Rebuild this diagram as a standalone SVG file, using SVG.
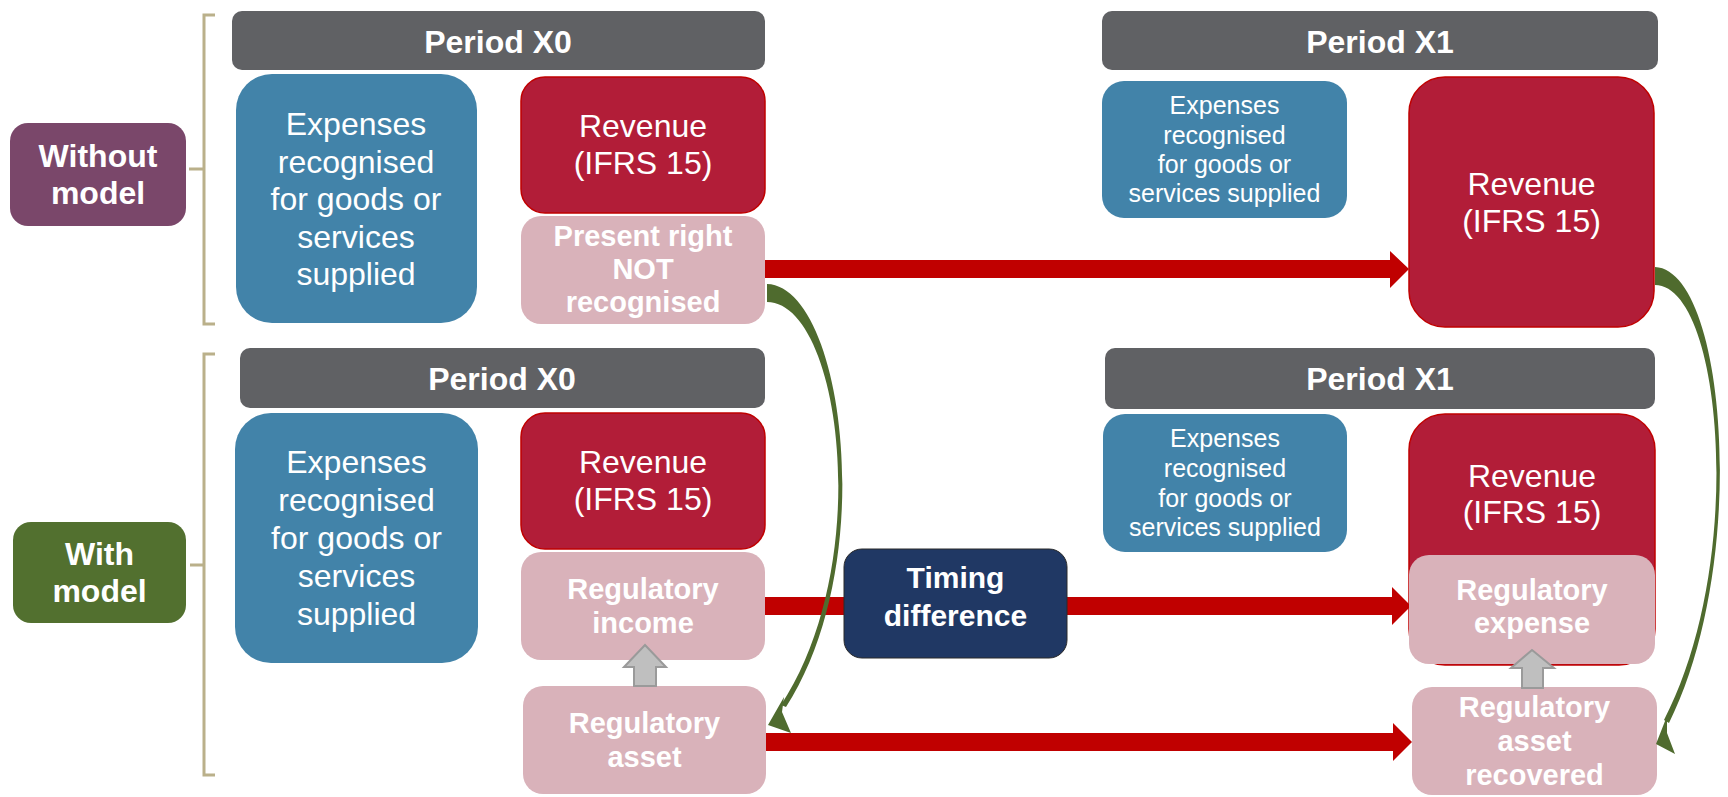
<svg xmlns="http://www.w3.org/2000/svg" width="1728" height="797" viewBox="0 0 1728 797">
<defs>
<style>
text{font-family:"Liberation Sans",Arial,sans-serif;fill:#fff;text-anchor:middle}
.b{font-weight:bold}
.hd{fill:#606164}
.blue{fill:#4283A9}
.rev{fill:#B21D38;stroke:#C00000;stroke-width:1.5}
.pink{fill:#D9B2BA}
.t32{font-size:32px}
.t29{font-size:29px;font-weight:bold}
.t25{font-size:25px}
.hdt{font-size:32px;font-weight:bold}
.redar{fill:#C00000}
.grn{fill:#4F6B2E}
.gray{fill:#BFBFBF;stroke:#9A9A9A;stroke-width:2}
.brk{fill:none;stroke:#BAB08A;stroke-width:3}
</style>
</defs>
<rect width="1728" height="797" fill="#fff"/>

<!-- connectors (red arrows, under boxes) -->
<g id="connectors">
<polygon class="redar" points="764,260 1390,260 1390,251 1409,269 1390,288 1390,278 764,278"/>
<polygon class="redar" points="764,597 1392,597 1392,587 1411,606 1392,625 1392,615 764,615"/>
<polygon class="redar" points="764,733 1393,733 1393,723 1412,742 1393,761 1393,751 764,751"/>
</g>

<!-- brackets -->
<g id="bracket-top">
<path class="brk" d="M215,15 H204 V324 H215 M204,169 H189"/>
</g>
<g id="bracket-bottom">
<path class="brk" d="M215,354 H204 V775 H215 M204,565 H190"/>
</g>

<g id="without-model">
<rect x="10" y="123" width="176" height="103" rx="18" fill="#7A476A"/>
<text class="hdt" x="98" y="167">Without</text>
<text class="hdt" x="98" y="204">model</text>
</g>
<g id="with-model">
<rect x="13" y="522" width="173" height="101" rx="18" fill="#52702F"/>
<text class="hdt" x="99.5" y="565">With</text>
<text class="hdt" x="99.5" y="602">model</text>
</g>

<!-- top row -->
<g id="period-x0-top">
<rect class="hd" x="232" y="11" width="533" height="59" rx="10"/>
<text class="hdt" x="498" y="53">Period X0</text>
</g>
<g id="expenses-x0-top">
<rect class="blue" x="236" y="74" width="241" height="249" rx="36"/>
<text class="t32" x="356" y="135">Expenses</text>
<text class="t32" x="356" y="172.5">recognised</text>
<text class="t32" x="356" y="210">for goods or</text>
<text class="t32" x="356" y="248">services</text>
<text class="t32" x="356" y="285">supplied</text>
</g>
<g id="revenue-x0-top">
<rect class="rev" x="521" y="77" width="244" height="136" rx="24"/>
<text class="t32" x="643" y="137">Revenue</text>
<text class="t32" x="643" y="174">(IFRS 15)</text>
</g>
<g id="present-right">
<rect class="pink" x="521" y="216" width="244" height="108" rx="20"/>
<text class="t29" x="643" y="246">Present right</text>
<text class="t29" x="643" y="279">NOT</text>
<text class="t29" x="643" y="312">recognised</text>
</g>
<g id="period-x1-top">
<rect class="hd" x="1102" y="11" width="556" height="59" rx="10"/>
<text class="hdt" x="1380" y="53">Period X1</text>
</g>
<g id="expenses-x1-top">
<rect class="blue" x="1102" y="81" width="245" height="137" rx="22"/>
<text class="t25" x="1224.5" y="114">Expenses</text>
<text class="t25" x="1224.5" y="144">recognised</text>
<text class="t25" x="1224.5" y="173">for goods or</text>
<text class="t25" x="1224.5" y="202">services supplied</text>
</g>
<g id="revenue-x1-top">
<rect class="rev" x="1409" y="77" width="245" height="250" rx="36"/>
<text class="t32" x="1531.5" y="195">Revenue</text>
<text class="t32" x="1531.5" y="232">(IFRS 15)</text>
</g>

<!-- bottom row -->
<g id="period-x0-bottom">
<rect class="hd" x="240" y="348" width="525" height="60" rx="10"/>
<text class="hdt" x="502" y="390">Period X0</text>
</g>
<g id="expenses-x0-bottom">
<rect class="blue" x="235" y="413" width="243" height="250" rx="36"/>
<text class="t32" x="356.5" y="473">Expenses</text>
<text class="t32" x="356.5" y="511">recognised</text>
<text class="t32" x="356.5" y="549">for goods or</text>
<text class="t32" x="356.5" y="587">services</text>
<text class="t32" x="356.5" y="625">supplied</text>
</g>
<g id="revenue-x0-bottom">
<rect class="rev" x="521" y="413" width="244" height="136" rx="24"/>
<text class="t32" x="643" y="473">Revenue</text>
<text class="t32" x="643" y="510">(IFRS 15)</text>
</g>
<g id="regulatory-income">
<rect class="pink" x="521" y="552" width="244" height="108" rx="20"/>
<text class="t29" x="643" y="599">Regulatory</text>
<text class="t29" x="643" y="633">income</text>
</g>
<g id="regulatory-asset">
<rect class="pink" x="523" y="686" width="243" height="108" rx="20"/>
<text class="t29" x="644.5" y="733">Regulatory</text>
<text class="t29" x="644.5" y="767">asset</text>
</g>
<g id="timing-difference">
<rect x="844" y="549" width="223" height="109" rx="18" fill="#203864" stroke="#2a2a2a" stroke-width="1"/>
<text class="b" font-size="30" x="955.5" y="588">Timing</text>
<text class="b" font-size="30" x="955.5" y="626">difference</text>
</g>
<g id="period-x1-bottom">
<rect class="hd" x="1105" y="348" width="550" height="61" rx="10"/>
<text class="hdt" x="1380" y="390">Period X1</text>
</g>
<g id="expenses-x1-bottom">
<rect class="blue" x="1103" y="414" width="244" height="138" rx="22"/>
<text class="t25" x="1225" y="447">Expenses</text>
<text class="t25" x="1225" y="477">recognised</text>
<text class="t25" x="1225" y="507">for goods or</text>
<text class="t25" x="1225" y="536">services supplied</text>
</g>
<g id="revenue-x1-bottom">
<rect class="rev" x="1409" y="414" width="246" height="251" rx="36"/>
<text class="t32" x="1532" y="487">Revenue</text>
<text class="t32" x="1532" y="523">(IFRS 15)</text>
</g>
<g id="regulatory-expense">
<rect class="pink" x="1409" y="555" width="246" height="109" rx="20"/>
<text class="t29" x="1532" y="600">Regulatory</text>
<text class="t29" x="1532" y="633">expense</text>
</g>
<g id="regulatory-asset-recovered">
<rect class="pink" x="1412" y="687" width="245" height="108" rx="20"/>
<text class="t29" x="1534.5" y="717">Regulatory</text>
<text class="t29" x="1534.5" y="751">asset</text>
<text class="t29" x="1534.5" y="785">recovered</text>
</g>

<!-- gray up arrows and green curved arrows -->
<g id="connectors-over">
<polygon class="gray" points="645,645 666,667 656,667 656,686 634,686 634,667 624,667"/>
<polygon class="gray" points="1532,650 1554,668 1543,668 1543,688 1522,688 1522,668 1511,668"/>
<path class="grn" d="M767,284 C843,286 881,560 786,707 L781,705 C876,560 840,302 767,302 Z"/>
<polygon class="grn" points="768,725 784,697 782,712 791,733"/>
<path class="grn" d="M1655,267 C1726,270 1750,560 1669,723 L1664,720 C1747,560 1722,285 1655,285 Z"/>
<polygon class="grn" points="1656,744 1667,716 1667,733 1675,754"/>
</g>
</svg>
